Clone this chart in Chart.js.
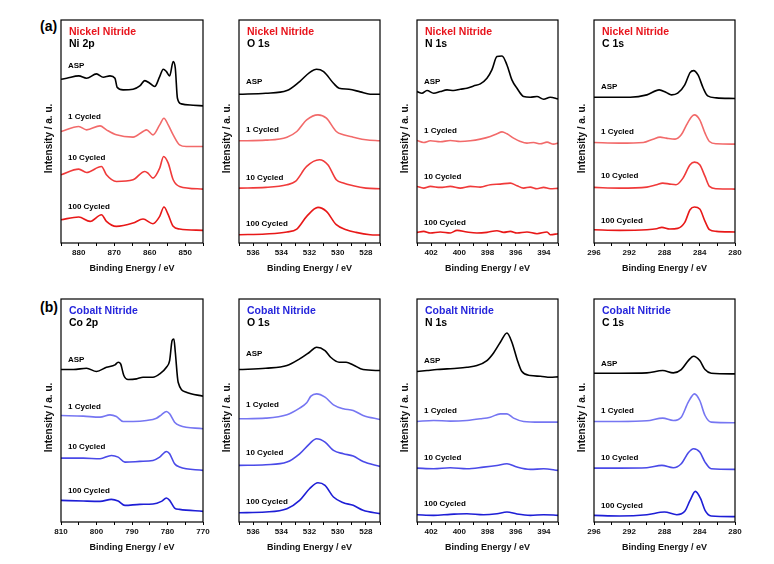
<!DOCTYPE html>
<html><head><meta charset="utf-8">
<script src="https://cdn.jsdelivr.net/npm/chart.js@4/dist/chart.umd.min.js"></script>
<style>
html,body{margin:0;padding:0;background:#fff;}
#wrap{position:relative;width:774px;height:564px;overflow:hidden;background:#fff;}
#wrap canvas{position:absolute;}
.tag{position:absolute;font:bold 14px "Liberation Sans",Arial,sans-serif;color:#000;line-height:16px;}
</style></head><body><div id="wrap">
<div class="tag" style="left:40px;top:18px">(a)</div>
<div class="tag" style="left:40px;top:299px">(b)</div>
</div>
<script>
// ---------- sample names ----------
const sampleLabels = ['ASP', '1 Cycled', '10 Cycled', '100 Cycled'];

// ---------- Nickel nitride, Ni 2p ----------
const ni2pAspE = [885,883.4,880,877.8,875,873.1,871.2,869.8,869.2,867.5,864.7,862.8,861.4,860,858.6,857.2,856.2,855.3,854.4,853.4,852.8,852.2,851.1,847.8,845];
const ni2pAspI = [492,495,502,495,508,498,502,495,468,460,462,472,488,480,470,500,522,515,502,545,525,435,418,414,412];
const ni2p1cE = [885,880,877.8,874,872.2,869.4,864.7,861.9,860.9,859.1,857.2,856,854.8,853.4,851.6,849.7,845];
const ni2p1cI = [335,350,340,352,340,325,318,335,340,325,355,375,355,325,295,290,290];
const ni2p10cE = [885,880,877.8,873.6,872.2,869.4,864.7,861.4,860.5,859.1,857.2,856.1,854.8,853.4,851.6,845];
const ni2p10cI = [205,222,212,230,205,185,190,215,210,195,225,260,240,190,170,162];
const ni2p100cE = [885,880,876.8,873.6,872.2,869.4,864.7,861.9,859.1,857.2,856,854.8,853.4,851.6,845];
const ni2p100cI = [70,78,65,85,65,50,60,72,58,80,108,85,50,42,38];

// ---------- Nickel nitride, O 1s ----------
const niO1sAspE = [537,535.1,533.6,532.7,532,531.5,531,530.3,529.9,529.2,528.4,527.7,527];
const niO1sAspI = [447,450,458,485,512,522,515,480,465,462,454,447,447];
const niO1s1cE = [537,535.1,533.6,532.9,532.2,531.4,530.8,530.1,529.6,528.9,528,527];
const niO1s1cI = [307,309,318,335,370,385,375,335,325,318,310,307];
const niO1s10cE = [537,535.1,533.6,533,532.2,531.3,530.7,530.1,529.6,528.9,528,527];
const niO1s10cI = [165,167,175,185,230,250,235,190,180,172,165,163];
const niO1s100cE = [537,535.1,533.6,532.9,532.2,531.4,530.8,530.1,529.4,528.7,527.7,527];
const niO1s100cI = [25,27,33,42,80,107,95,55,40,32,25,24];

// ---------- Nickel nitride, N 1s ----------
const niN1sAspE = [403,402.65,402.29,401.82,401.35,400.87,400.4,399.93,399.46,398.99,398.51,398.04,397.69,397.33,396.97,396.62,396.27,395.91,395.44,394.97,394.49,394.02,393.55,393];
const niN1sAspI = [455,450,458,450,455,460,458,462,465,472,478,495,520,560,562,535,490,465,440,438,440,432,438,433];
const niN1s1cE = [403,402.53,402.05,401.35,400.64,399.93,399.22,398.51,397.8,397.33,396.97,396.62,396.15,395.67,395.2,394.73,394.25,393.78,393.31,393];
const niN1s1cI = [308,302,307,304,308,305,307,312,320,328,334,328,315,305,300,302,298,303,297,300];
const niN1s10cE = [403,402.53,402.05,401.35,400.64,399.93,399.22,398.51,397.8,397.09,396.38,395.91,395.44,394.97,394.49,394.02,393.55,393];
const niN1s10cI = [170,165,170,167,170,165,170,168,175,177,180,172,165,168,163,167,163,164];
const niN1s100cE = [403,402.53,402.05,401.35,400.64,400.16,399.46,398.75,398.04,397.33,396.85,396.38,395.91,395.2,394.49,393.78,393.55,393];
const niN1s100cI = [32,35,30,33,30,38,33,30,32,37,32,35,30,33,28,33,25,28];

// ---------- Nickel nitride, C 1s ----------
const niC1sAspE = [296,294.2,291.9,290,288.6,287.8,287.2,286.5,285.7,285.1,284.7,284.2,283.6,283.1,282.1,280];
const niC1sAspI = [438,438,438,445,460,452,445,450,475,512,518,505,465,442,436,434];
const niC1s1cE = [296,293.1,290.4,289.3,288.5,287.8,286.8,286.1,285.5,284.9,284.6,284,283.4,282.9,282.1,280];
const niC1s1cI = [302,300,302,312,318,315,312,325,355,380,385,370,330,305,298,297];
const niC1s10cE = [296,293.1,290,288.9,288.2,287.4,286.7,285.9,285.1,284.6,284,283.4,282.9,282.1,280];
const niC1s10cI = [167,165,168,175,180,177,175,195,235,243,235,200,170,163,162];
const niC1s100cE = [296,293.1,290,288.9,288.3,287.4,286.5,285.7,285.1,284.6,284,283.4,282.9,282.1,280];
const niC1s100cI = [40,38,40,43,47,42,44,62,100,108,102,65,40,35,33];

// ---------- Cobalt nitride, Co 2p ----------
const co2pAspE = [810,806.5,802.8,800,797.2,794.8,793.9,793.2,792.3,791.1,788.7,786.9,784.1,782.2,780.3,779.4,778.7,778.2,777.8,777,774.7,770];
const co2pAspI = [458,458,462,452,465,472,480,475,440,428,430,435,435,445,465,485,545,550,510,420,390,378];
const co2p1cE = [810,803.7,799,796.2,794.4,792.5,789.7,785.9,783.1,781.7,780.3,779.4,778,776.6,770];
const co2p1cI = [320,318,315,322,317,302,302,305,312,322,332,325,300,290,280];
const co2p10cE = [810,803.7,799,795.8,793.9,792,787.8,784.1,782.2,780.3,779.4,778,776.6,770];
const co2p10cI = [192,192,190,200,195,180,182,185,195,212,205,175,165,155];
const co2p100cE = [810,803.7,799,795.8,793.9,792,787.8,784.1,781.7,780.3,779.4,778,776.6,770];
const co2p100cI = [65,63,62,68,63,50,53,54,62,72,65,42,38,32];

// ---------- Cobalt nitride, O 1s ----------
const coO1sAspE = [537,535.1,533.6,532.7,532,531.5,530.9,530.5,529.9,529.4,528.9,528.2,527];
const coO1sAspI = [458,462,470,490,510,525,515,495,480,480,472,458,455];
const coO1s1cE = [537,535.1,533.6,532.7,532.2,531.9,531.5,530.9,530.3,529.6,528.9,528.2,527];
const coO1s1cI = [310,312,322,342,358,378,385,375,352,340,335,320,308];
const coO1s10cE = [537,535.1,533.6,532.7,532,531.5,530.9,530.3,529.6,528.9,528.2,527];
const coO1s10cI = [170,172,180,205,235,250,240,215,205,198,182,167];
const coO1s100cE = [537,535.1,533.6,532.7,532,531.4,530.9,530.3,529.6,528.9,528.2,527];
const coO1s100cI = [28,30,40,65,100,118,110,75,58,50,35,25];

// ---------- Cobalt nitride, N 1s ----------
const coN1sAspE = [403,402.29,401.58,400.87,400.16,399.46,398.75,398.04,397.57,397.09,396.62,396.27,395.91,395.56,394.96,394.25,393.55,393];
const coN1sAspI = [452,455,458,460,462,465,470,485,508,540,568,540,490,452,440,438,435,436];
const coN1s1cE = [403,401.82,400.64,399.46,398.51,397.8,397.09,396.62,396.15,395.44,394.25,393];
const coN1s1cI = [302,305,303,305,310,315,325,325,312,302,300,300];
const coN1s10cE = [403,401.82,400.64,399.46,398.28,397.33,396.62,395.91,394.96,394.02,393];
const coN1s10cI = [162,160,163,160,165,170,175,165,158,160,155];
const coN1s100cE = [403,401.82,400.64,399.46,398.28,397.33,396.62,395.91,394.96,394.02,393];
const coN1s100cI = [22,20,23,25,22,25,30,24,20,22,20];

// ---------- Cobalt nitride, C 1s ----------
const coC1sAspE = [296,293.1,290,288.2,287,286.1,285.3,284.7,284,283.4,282.7,280];
const coC1sAspI = [447,447,448,455,448,458,485,498,485,458,447,445];
const coC1s1cE = [296,293.1,290,288.2,287,286.1,285.3,284.6,284,283.4,282.7,280];
const coC1s1cI = [302,302,304,312,305,315,360,385,365,320,300,298];
const coC1s10cE = [296,293.1,290,288.3,287,286.1,285.3,284.7,284,283.4,282.7,280];
const coC1s10cI = [162,162,163,170,163,175,208,220,210,180,160,158];
const coC1s100cE = [296,293.1,290,288,286.6,285.7,285.1,284.5,283.9,283.4,282.7,280];
const coC1s100cI = [20,18,22,30,22,32,65,92,70,35,18,16];

// ---------- where the sample names sit (intensity units) ----------
const ni2pLabelY = [532, 380, 255, 110];
const niO1sLabelY = [485, 340, 197, 58];
const niN1sLabelY = [485, 338, 200, 62];
const niC1sLabelY = [468, 333, 202, 67];
const co2pLabelY = [487, 347, 225, 93];
const coO1sLabelY = [504, 353, 207, 62];
const coN1sLabelY = [485, 335, 193, 55];
const coC1sLabelY = [475, 334, 192, 50];

// ---------- styling ----------
const FONT = '"Liberation Sans", Arial, sans-serif';
const niColors = ['#000000', '#f26a6a', '#f03a3a', '#e81818'];
const coColors = ['#000000', '#7676f2', '#4a4ae8', '#1e1ed6'];
const niTitleColor = '#e8141c';
const coTitleColor = '#2626dc';

const PLOT_H = 223, X_AXIS_H = 31, Y_AXIS_W = 18, PAD_T = 4, PAD_R = 10;

const panels = [
  {left:61, top:20, w:142, title:'Nickel Nitride', tc:niTitleColor, sub:'Ni 2p', min:845, max:885, step:5, major:10, colors:niColors,
   E:[ni2pAspE,ni2p1cE,ni2p10cE,ni2p100cE], I:[ni2pAspI,ni2p1cI,ni2p10cI,ni2p100cI], labelY:ni2pLabelY},
  {left:239, top:20, w:141, title:'Nickel Nitride', tc:niTitleColor, sub:'O 1s', min:527, max:537, step:1, major:2, colors:niColors,
   E:[niO1sAspE,niO1s1cE,niO1s10cE,niO1s100cE], I:[niO1sAspI,niO1s1cI,niO1s10cI,niO1s100cI], labelY:niO1sLabelY},
  {left:417, top:20, w:141, title:'Nickel Nitride', tc:niTitleColor, sub:'N 1s', min:393, max:403, step:1, major:2, colors:niColors,
   E:[niN1sAspE,niN1s1cE,niN1s10cE,niN1s100cE], I:[niN1sAspI,niN1s1cI,niN1s10cI,niN1s100cI], labelY:niN1sLabelY},
  {left:594, top:20, w:141, title:'Nickel Nitride', tc:niTitleColor, sub:'C 1s', min:280, max:296, step:2, major:4, colors:niColors,
   E:[niC1sAspE,niC1s1cE,niC1s10cE,niC1s100cE], I:[niC1sAspI,niC1s1cI,niC1s10cI,niC1s100cI], labelY:niC1sLabelY},
  {left:61, top:299, w:142, title:'Cobalt Nitride', tc:coTitleColor, sub:'Co 2p', min:770, max:810, step:5, major:10, colors:coColors,
   E:[co2pAspE,co2p1cE,co2p10cE,co2p100cE], I:[co2pAspI,co2p1cI,co2p10cI,co2p100cI], labelY:co2pLabelY},
  {left:239, top:299, w:141, title:'Cobalt Nitride', tc:coTitleColor, sub:'O 1s', min:527, max:537, step:1, major:2, colors:coColors,
   E:[coO1sAspE,coO1s1cE,coO1s10cE,coO1s100cE], I:[coO1sAspI,coO1s1cI,coO1s10cI,coO1s100cI], labelY:coO1sLabelY},
  {left:417, top:299, w:141, title:'Cobalt Nitride', tc:coTitleColor, sub:'N 1s', min:393, max:403, step:1, major:2, colors:coColors,
   E:[coN1sAspE,coN1s1cE,coN1s10cE,coN1s100cE], I:[coN1sAspI,coN1s1cI,coN1s10cI,coN1s100cI], labelY:coN1sLabelY},
  {left:594, top:299, w:141, title:'Cobalt Nitride', tc:coTitleColor, sub:'C 1s', min:280, max:296, step:2, major:4, colors:coColors,
   E:[coC1sAspE,coC1s1cE,coC1s10cE,coC1s100cE], I:[coC1sAspI,coC1s1cI,coC1s10cI,coC1s100cI], labelY:coC1sLabelY}
];

const panelPlugin = {
  id: 'panelDeco',
  afterDatasetsDraw(chart, args, o) {
    const {ctx, chartArea: a, scales} = chart;
    ctx.save();
    ctx.strokeStyle = '#000';
    ctx.lineWidth = 1.2;
    ctx.strokeRect(a.left, a.top, a.right - a.left, a.bottom - a.top);
    ctx.textBaseline = 'middle';
    ctx.textAlign = 'left';
    ctx.font = 'bold 10.5px ' + FONT;
    ctx.fillStyle = o.tc;
    ctx.fillText(o.title, a.left + 8, a.top + 12);
    ctx.fillStyle = '#000';
    ctx.fillText(o.sub, a.left + 8, a.top + 24.5);
    ctx.font = 'bold 8px ' + FONT;
    o.labelY.forEach((v, i) => {
      ctx.fillText(sampleLabels[i], a.left + 7, scales.y.getPixelForValue(v));
    });
    ctx.restore();
  }
};

const wrap = document.getElementById('wrap');
panels.forEach(p => {
  const cv = document.createElement('canvas');
  const W = Y_AXIS_W + p.w + PAD_R, H = PAD_T + PLOT_H + X_AXIS_H;
  cv.width = W; cv.height = H;
  cv.style.left = (p.left - Y_AXIS_W) + 'px';
  cv.style.top = (p.top - PAD_T) + 'px';
  cv.style.width = W + 'px'; cv.style.height = H + 'px';
  wrap.appendChild(cv);
  new Chart(cv, {
    type: 'line',
    data: {
      datasets: p.E.map((e, i) => ({
        label: sampleLabels[i],
        data: e.map((x, k) => ({x: x, y: p.I[i][k]})),
        borderColor: p.colors[i],
        borderWidth: 1.6,
        pointRadius: 0,
        fill: false,
        cubicInterpolationMode: 'monotone'
      }))
    },
    options: {
      responsive: false,
      animation: false,
      events: [],
      layout: {padding: {left: 0, right: PAD_R, top: PAD_T, bottom: 0}},
      plugins: {
        legend: {display: false},
        tooltip: {enabled: false},
        panelDeco: {title: p.title, tc: p.tc, sub: p.sub, labelY: p.labelY}
      },
      scales: {
        x: {
          type: 'linear', reverse: true, min: p.min, max: p.max,
          ticks: {
            stepSize: p.step, autoSkip: false, maxRotation: 0, padding: 1.5, color: '#111',
            font: {family: FONT, size: 8, weight: 'bold'},
            callback: v => (Math.round(v) % p.major === 0 ? String(Math.round(v)) : '')
          },
          grid: {display: true, drawOnChartArea: false, drawTicks: true, tickLength: 3, color: '#000', lineWidth: 1},
          border: {display: false},
          title: {display: true, text: 'Binding Energy / eV', color: '#111',
                  font: {family: FONT, size: 9, weight: 'bold'}, padding: {top: 0, bottom: 0}},
          afterFit(s) { s.height = X_AXIS_H; s.paddingLeft = 0; s.paddingRight = 0; }
        },
        y: {
          min: 0, max: 670,
          ticks: {display: false},
          grid: {display: false},
          border: {display: false},
          title: {display: true, text: 'Intensity / a. u.' + '\u00a0'.repeat(5), color: '#111',
                  font: {family: FONT, size: 10, weight: 'bold'}, padding: {top: 0, bottom: 0}},
          afterFit(s) { s.width = Y_AXIS_W; }
        }
      }
    },
    plugins: [panelPlugin]
  });
});
</script>
</body></html>
